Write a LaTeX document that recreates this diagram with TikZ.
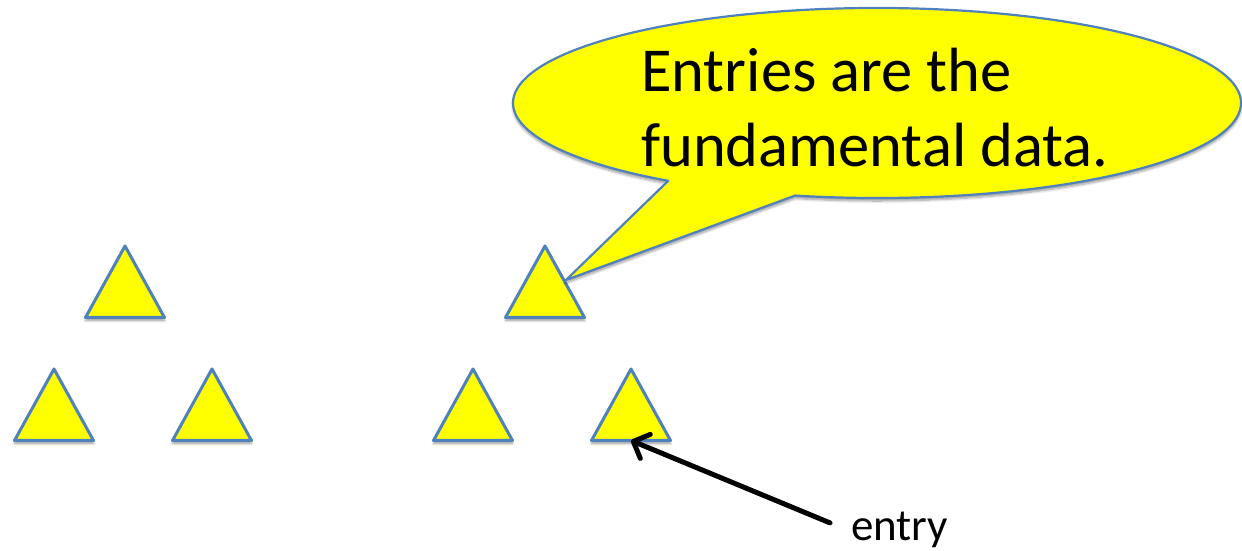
\documentclass[tikz,border=0pt]{standalone}
\usepackage{fontspec}
\setmainfont{Carlito}
\usetikzlibrary{arrows.meta,shadows.blur}

\definecolor{officeblue}{RGB}{79,129,189}
\definecolor{noteyellow}{RGB}{255,255,0}

\tikzset{
  soft shadow/.style={blur shadow={shadow xshift=0pt, shadow yshift=-3pt,
      shadow blur steps=6, shadow blur radius=2.5pt, shadow opacity=40}},
  tribox/.style={draw=officeblue, fill=noteyellow, line width=3pt,
      line join=round, soft shadow},
  calloutbox/.style={draw=officeblue, fill=noteyellow, line width=2.2pt,
      line join=round, soft shadow},
  entryarrow/.style={line width=5pt, line cap=round,
      -{Straight Barb[length=13pt, width=26pt, line cap=round, line join=round]}},
  bigtext/.style={anchor=base west, inner sep=0pt,
      font=\fontsize{62.5}{75}\selectfont},
  labeltext/.style={anchor=base west, inner sep=0pt,
      font=\fontsize{45}{54}\selectfont},
  pics/yellowtri/.style={code={
      \filldraw[tribox] (0,0) -- (-39.5,-71.5) -- (39.5,-71.5) -- cycle;
      \coordinate (-apex) at (0,0);
      \coordinate (-base) at (0,-71.5);
      \coordinate (-right) at (19.75,-35.75);
  }},
}

\begin{document}
\begin{tikzpicture}[x=1pt, y=1pt]
  \useasboundingbox (0,0) rectangle (1242,551);

  % two small trees of entries
  \pic (t1) at (125,305) {yellowtri};
  \pic (t2) at (54,182)  {yellowtri};
  \pic (t3) at (212,182) {yellowtri};
  \pic (t4) at (545,305) {yellowtri};
  \pic (t5) at (473,182) {yellowtri};
  \pic (t6) at (631,182) {yellowtri};

  % speech bubble pointing at an entry
  \coordinate (bubblecentre) at (877,448);
  \coordinate (bubbletip) at (566,271);
  \filldraw[calloutbox] (bubblecentre) ++(257:364 and 95)
    arc[start angle=257, end angle=595, x radius=364, y radius=95]
    -- (bubbletip) -- cycle;

  \node[bigtext] (line1) at (641,459) {Entries are the};
  \node[bigtext] (line2) at (641,384) {fundamental data.};

  % label with its arrow
  \node[labeltext] (entry) at (851,10.5) {entry};
  \draw[entryarrow] ([xshift=-21pt, yshift=7pt]entry.west) -- (t6-base);
\end{tikzpicture}
\end{document}
